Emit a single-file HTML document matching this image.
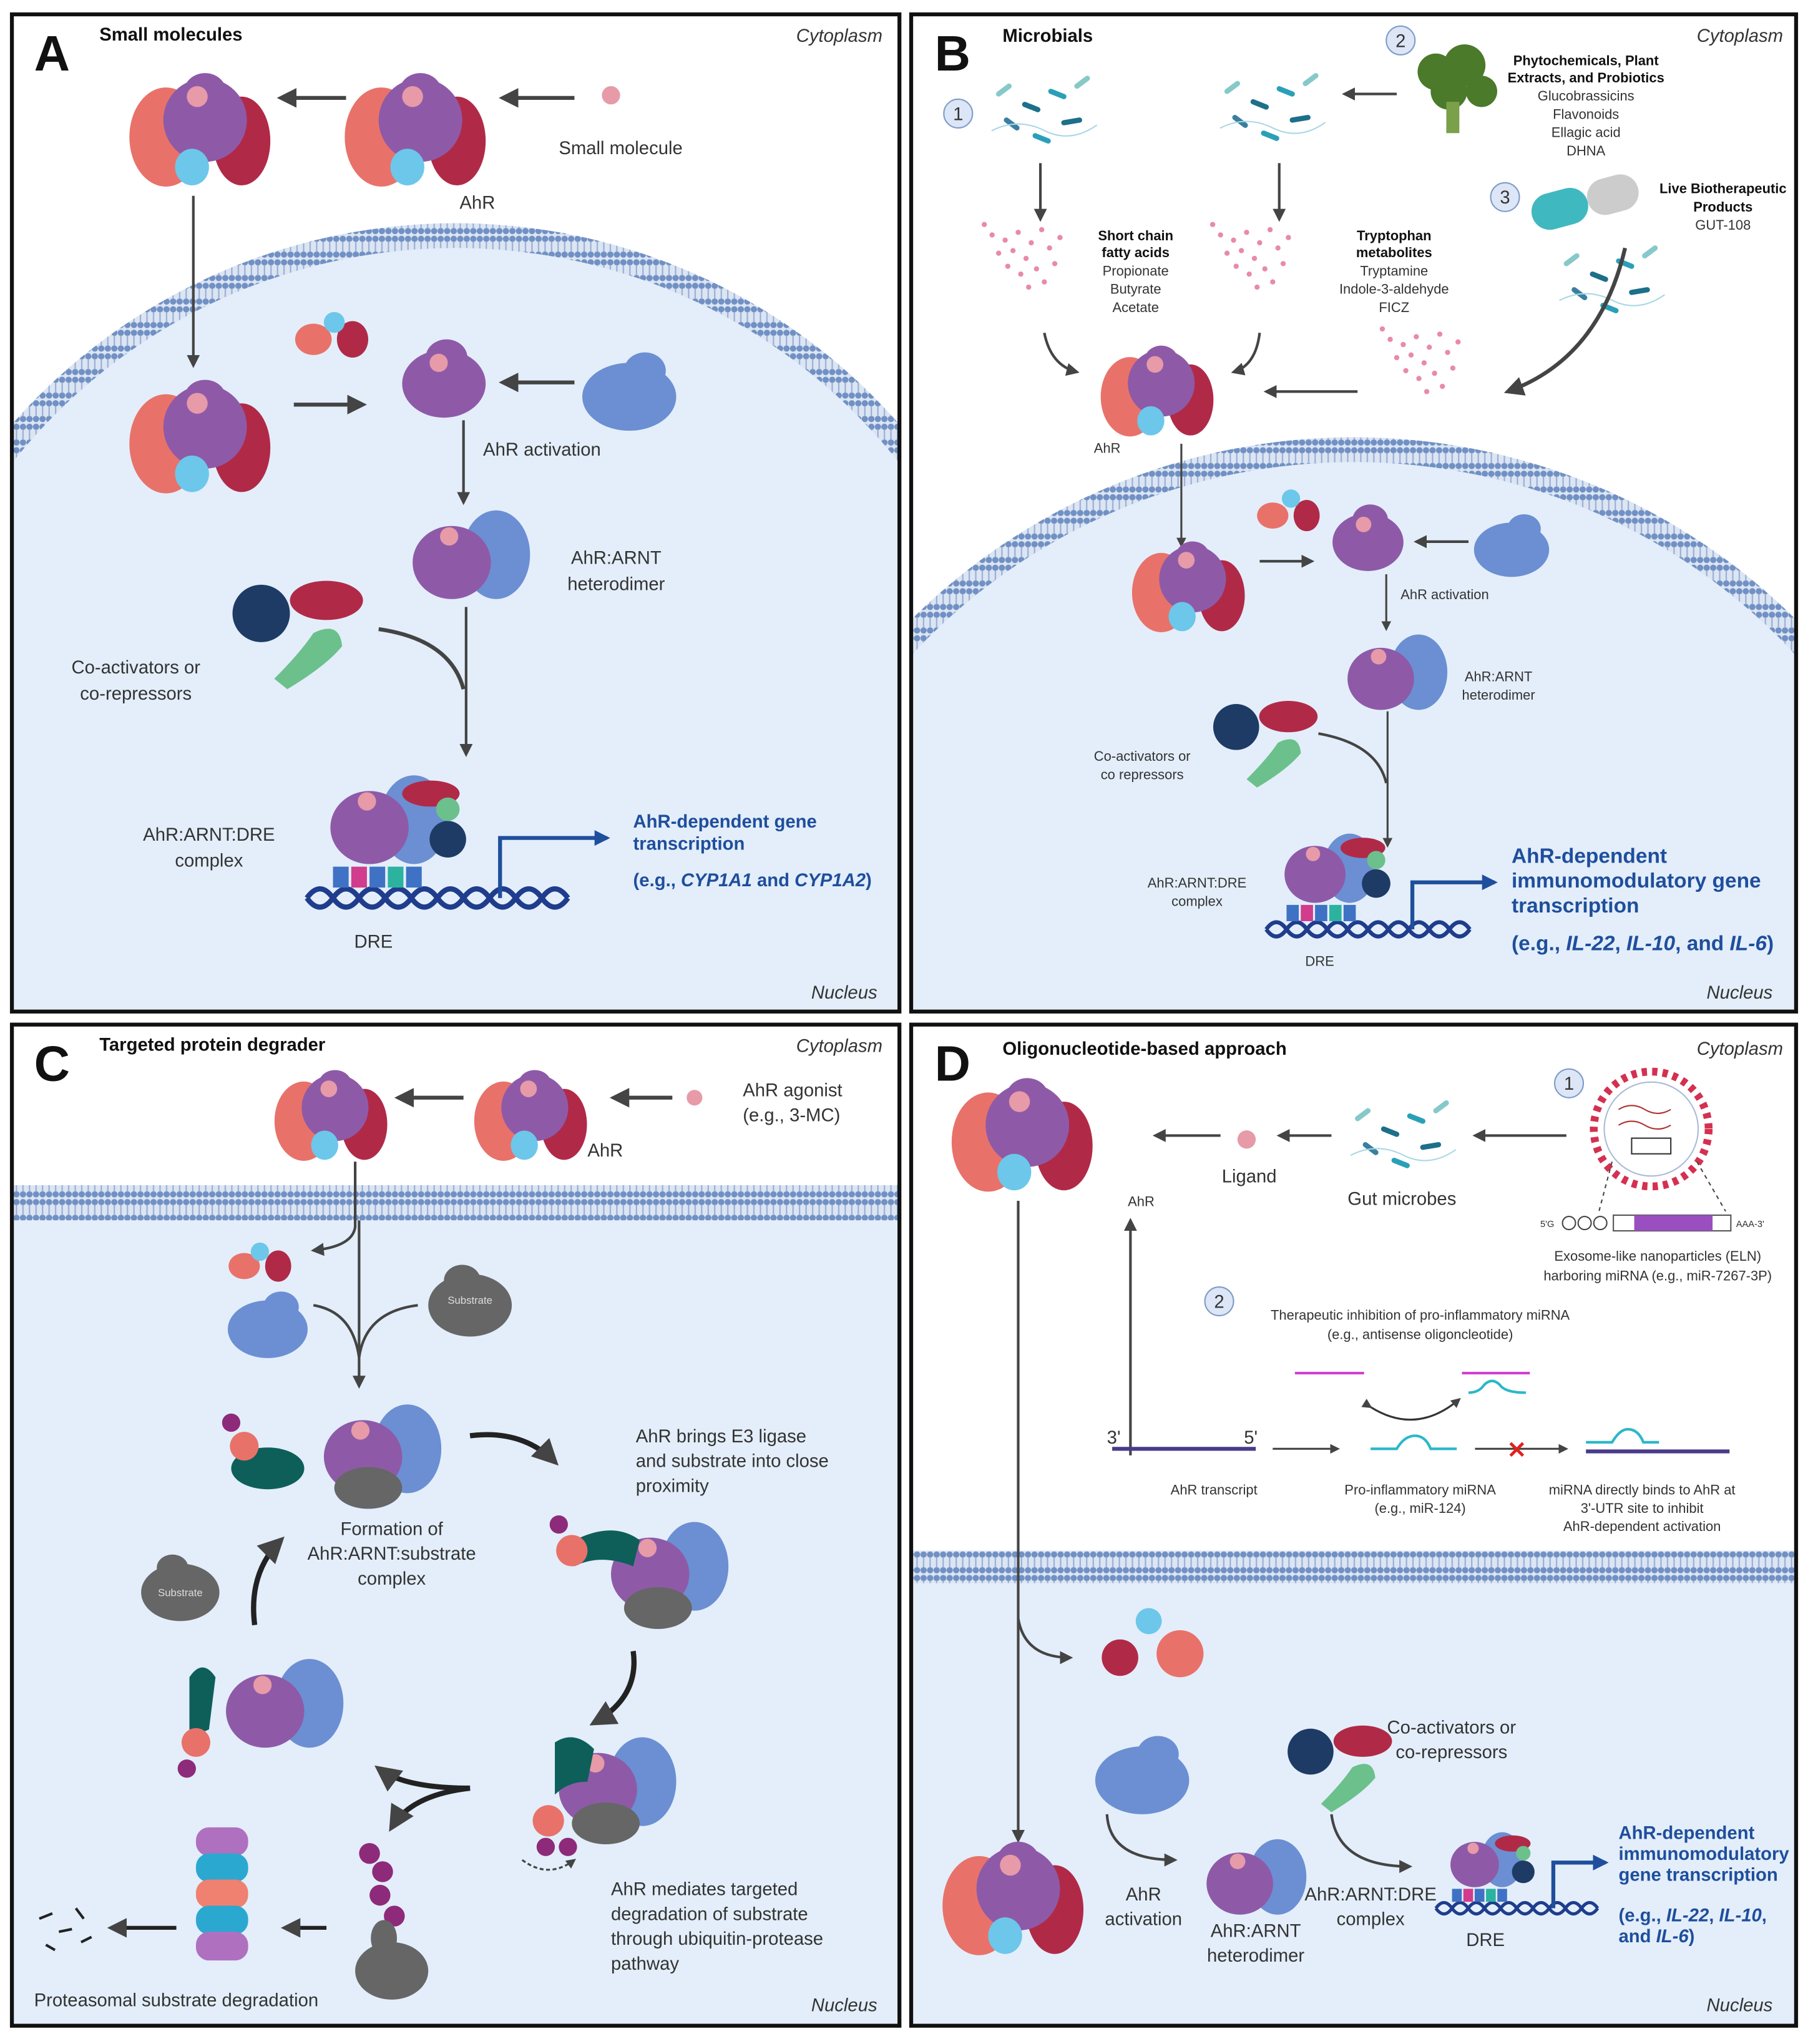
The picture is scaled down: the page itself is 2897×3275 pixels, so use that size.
<!DOCTYPE html>
<html><head><meta charset="utf-8"><style>
html,body{margin:0;padding:0;background:#fff}
svg{display:block}
text{font-family:"Liberation Sans",sans-serif;fill:#333}
.t{font-size:14px}.s{font-size:10.5px}.b{font-weight:bold;fill:#111}
.bl{fill:#1f4e9c;font-weight:bold}
.L{font-size:38px;font-weight:bold;fill:#111}
.i{font-style:italic}
</style></head><body>
<svg width="2897" height="3275" viewBox="0 0 1385 1566" xmlns="http://www.w3.org/2000/svg">
<defs>
<marker id="ah" viewBox="0 0 10 10" refX="8" refY="5" markerWidth="5" markerHeight="5" orient="auto"><path d="M0,0L10,5L0,10z" fill="#444"/></marker>
<marker id="ab" viewBox="0 0 10 10" refX="8" refY="5" markerWidth="4" markerHeight="4" orient="auto"><path d="M0,0L10,5L0,10z" fill="#1f4e9c"/></marker>
<pattern id="mem" width="5" height="18" patternUnits="userSpaceOnUse"><rect width="5" height="18" fill="#dbe5f3"/><circle cx="2.5" cy="3" r="2.4" fill="#7190c4"/><circle cx="2.5" cy="15" r="2.4" fill="#7190c4"/><line x1="2.5" y1="5" x2="2.5" y2="13" stroke="#97acd3" stroke-width="1"/></pattern>
<g id="cx">
<ellipse cx="-28" cy="5" rx="28" ry="38" fill="#e8726a"/>
<ellipse cx="30" cy="8" rx="22" ry="34" fill="#b02a48"/>
<ellipse cx="2" cy="-8" rx="32" ry="32" fill="#8e5aa8"/>
<ellipse cx="2" cy="-30" rx="16" ry="14" fill="#8e5aa8"/>
<circle cx="-4" cy="-26" r="8" fill="#e79aa8"/>
<ellipse cx="-8" cy="28" rx="13" ry="14" fill="#6cc7ea"/>
</g>
<g id="ahr"><ellipse cx="0" cy="4" rx="32" ry="26" fill="#8e5aa8"/><ellipse cx="2" cy="-16" rx="16" ry="14" fill="#8e5aa8"/><circle cx="-4" cy="-12" r="7" fill="#e79aa8"/></g>
<g id="arnt"><ellipse cx="0" cy="4" rx="36" ry="26" fill="#6b8fd2"/><ellipse cx="12" cy="-16" rx="16" ry="14" fill="#6b8fd2"/></g>
<g id="het"><ellipse cx="22" cy="0" rx="26" ry="34" fill="#6b8fd2"/><ellipse cx="-12" cy="6" rx="30" ry="28" fill="#8e5aa8"/><circle cx="-14" cy="-14" r="7" fill="#e79aa8"/></g>
<g id="cof"><circle cx="-20" cy="-10" r="22" fill="#1e3b66"/><ellipse cx="30" cy="-20" rx="28" ry="15" fill="#b02a48"/><path d="M-10,40 Q10,20 20,5 Q40,-5 42,15 Q30,30 0,48z" fill="#6cc08c"/></g>
<g id="dna" fill="none" stroke="#1f3d8c" stroke-width="4"><path d="M0,0 Q10,-14 20,0 T40,0 T60,0 T80,0 T100,0 T120,0 T140,0 T160,0 T180,0 T200,0"/><path d="M0,0 Q10,14 20,0 T40,0 T60,0 T80,0 T100,0 T120,0 T140,0 T160,0 T180,0 T200,0"/></g>
<g id="dre"><use href="#dna"/><rect x="20" y="-24" width="12" height="16" fill="#3f72c4"/><rect x="34" y="-24" width="12" height="16" fill="#d23c8c"/><rect x="48" y="-24" width="12" height="16" fill="#3f72c4"/><rect x="62" y="-24" width="12" height="16" fill="#2cb3a0"/><rect x="76" y="-24" width="12" height="16" fill="#3f72c4"/><use href="#het" x="60" y="-60"/><ellipse cx="95" cy="-80" rx="22" ry="10" fill="#b02a48"/><circle cx="108" cy="-45" r="14" fill="#1e3b66"/><circle cx="108" cy="-68" r="9" fill="#6cc08c"/></g>
<g id="bac" stroke-width="4" stroke-linecap="round"><line x1="0" y1="0" x2="10" y2="4" stroke="#1d6f8a"/><line x1="20" y1="-10" x2="30" y2="-6" stroke="#2aa0b8"/><line x1="-14" y1="12" x2="-6" y2="18" stroke="#3a7fa0"/><line x1="30" y1="14" x2="42" y2="12" stroke="#1d6f8a"/><line x1="-20" y1="-8" x2="-12" y2="-14" stroke="#86c9c8"/><line x1="8" y1="24" x2="18" y2="28" stroke="#2aa0b8"/><line x1="40" y1="-14" x2="48" y2="-20" stroke="#86c9c8"/><path d="M-25,20 q20,-10 40,0 t40,-4" stroke="#a8d8e4" stroke-width="1" fill="none"/></g>
<g id="dots" fill="#e88aa8"><circle cx="0" cy="0" r="2"/><circle cx="10" cy="4" r="2"/><circle cx="20" cy="-2" r="2"/><circle cx="30" cy="6" r="2"/><circle cx="5" cy="14" r="2"/><circle cx="16" cy="12" r="2"/><circle cx="26" cy="18" r="2"/><circle cx="38" cy="-4" r="2"/><circle cx="44" cy="10" r="2"/><circle cx="12" cy="24" r="2"/><circle cx="22" cy="30" r="2"/><circle cx="34" cy="26" r="2"/><circle cx="48" cy="22" r="2"/><circle cx="28" cy="40" r="2"/><circle cx="40" cy="36" r="2"/><circle cx="-6" cy="-8" r="2"/><circle cx="52" cy="2" r="2"/></g>
</defs>
<rect width="1385" height="1566" fill="#fff"/>

<!-- PANEL A -->
<clipPath id="cA"><rect x="9" y="11" width="680" height="764"/></clipPath>
<g clip-path="url(#cA)">
<circle cx="349" cy="623" r="452" fill="url(#mem)"/>
<circle cx="349" cy="623" r="433" fill="#e3eefa"/>
<rect x="0" y="700" width="700" height="80" fill="#e3eefa"/>
</g>
<rect x="9" y="11" width="680" height="764" fill="none" stroke="#111" stroke-width="3"/>
<text x="26" y="54" class="L">A</text>
<text x="76" y="31" class="t b">Small molecules</text>
<text x="676" y="32" class="t i" text-anchor="end">Cytoplasm</text>
<text x="672" y="765" class="t i" text-anchor="end">Nucleus</text>
<use href="#cx" x="155" y="100"/><use href="#cx" x="320" y="100"/>
<circle cx="468" cy="73" r="7" fill="#e79aa8"/>
<line x1="440" y1="75" x2="385" y2="75" stroke="#444" stroke-width="3" marker-end="url(#ah)"/>
<line x1="265" y1="75" x2="215" y2="75" stroke="#444" stroke-width="3" marker-end="url(#ah)"/>
<text x="428" y="118" class="t">Small molecule</text>
<text x="352" y="160" class="t">AhR</text>
<line x1="148" y1="150" x2="148" y2="280" stroke="#444" stroke-width="2" marker-end="url(#ah)"/>
<use href="#cx" x="155" y="335"/>
<g transform="translate(250,255)"><ellipse cx="-10" cy="5" rx="14" ry="12" fill="#e8726a"/><ellipse cx="20" cy="5" rx="12" ry="14" fill="#b02a48"/><circle cx="6" cy="-8" r="8" fill="#6cc7ea"/></g>
<line x1="225" y1="310" x2="278" y2="310" stroke="#444" stroke-width="3" marker-end="url(#ah)"/>
<use href="#ahr" x="340" y="290"/>
<line x1="440" y1="293" x2="385" y2="293" stroke="#444" stroke-width="3" marker-end="url(#ah)"/>
<use href="#arnt" x="482" y="300"/>
<line x1="355" y1="322" x2="355" y2="385" stroke="#444" stroke-width="2" marker-end="url(#ah)"/>
<text x="370" y="349" class="t">AhR activation</text>
<use href="#het" x="358" y="425"/>
<text x="472" y="432" class="t" text-anchor="middle">AhR:ARNT</text>
<text x="472" y="452" class="t" text-anchor="middle">heterodimer</text>
<use href="#cof" x="220" y="480"/>
<text x="104" y="516" class="t" text-anchor="middle">Co-activators or</text>
<text x="104" y="536" class="t" text-anchor="middle">co-repressors</text>
<path d="M290,482 Q345,490 355,528" fill="none" stroke="#444" stroke-width="3"/>
<line x1="357" y1="465" x2="357" y2="578" stroke="#444" stroke-width="2" marker-end="url(#ah)"/>
<use href="#dre" x="235" y="688"/>
<path d="M383,688 V642 H465" fill="none" stroke="#1f4e9c" stroke-width="3" marker-end="url(#ab)"/>
<text x="160" y="644" class="t" text-anchor="middle">AhR:ARNT:DRE</text>
<text x="160" y="664" class="t" text-anchor="middle">complex</text>
<text x="286" y="726" class="t" text-anchor="middle">DRE</text>
<text x="485" y="634" class="t bl">AhR-dependent gene</text>
<text x="485" y="651" class="t bl">transcription</text>
<text x="485" y="679" class="t bl">(e.g., <tspan class="i">CYP1A1</tspan> and <tspan class="i">CYP1A2</tspan>)</text>

<!-- PANEL B -->
<clipPath id="cB"><rect x="698" y="11" width="678" height="764"/></clipPath>
<g clip-path="url(#cB)">
<circle cx="1037" cy="816" r="481" fill="url(#mem)"/>
<circle cx="1037" cy="816" r="462" fill="#e3eefa"/>
<rect x="690" y="900" width="700" height="80" fill="#e3eefa"/>
</g>
<rect x="698" y="11" width="678" height="764" fill="none" stroke="#111" stroke-width="3"/>
<text x="716" y="54" class="L">B</text>
<text x="768" y="32" class="t b">Microbials</text>
<text x="1366" y="32" class="t i" text-anchor="end">Cytoplasm</text>
<text x="1358" y="765" class="t i" text-anchor="end">Nucleus</text>
<circle cx="734" cy="87" r="11" fill="#dce6f6" stroke="#7f9cc9"/><text x="734" y="92" class="t" text-anchor="middle">1</text>
<circle cx="1073" cy="31" r="11" fill="#dce6f6" stroke="#7f9cc9"/><text x="1073" y="36" class="t" text-anchor="middle">2</text>
<circle cx="1153" cy="151" r="11" fill="#dce6f6" stroke="#7f9cc9"/><text x="1153" y="156" class="t" text-anchor="middle">3</text>
<use href="#bac" x="785" y="80"/><use href="#bac" x="960" y="78"/><use href="#bac" x="1220" y="210"/>
<g fill="#4a7a2a"><circle cx="1100" cy="55" r="14"/><circle cx="1122" cy="50" r="16"/><circle cx="1110" cy="70" r="14"/><circle cx="1135" cy="70" r="12"/></g><rect x="1108" y="78" width="10" height="24" fill="#7aa04a"/>
<g transform="translate(1195,160) rotate(-15)"><rect x="-22" y="-14" width="44" height="28" rx="14" fill="#40b8c0"/><rect x="22" y="-14" width="40" height="28" rx="14" fill="#ccc"/></g>
<text x="1215" y="50" class="s b" text-anchor="middle">Phytochemicals, Plant</text>
<text x="1215" y="63" class="s b" text-anchor="middle">Extracts, and Probiotics</text>
<text x="1215" y="77" class="s" text-anchor="middle">Glucobrassicins</text>
<text x="1215" y="91" class="s" text-anchor="middle">Flavonoids</text>
<text x="1215" y="105" class="s" text-anchor="middle">Ellagic acid</text>
<text x="1215" y="119" class="s" text-anchor="middle">DHNA</text>
<text x="1320" y="148" class="s b" text-anchor="middle">Live Biotherapeutic</text>
<text x="1320" y="162" class="s b" text-anchor="middle">Products</text>
<text x="1320" y="176" class="s" text-anchor="middle">GUT-108</text>
<line x1="1070" y1="72" x2="1030" y2="72" stroke="#444" stroke-width="2" marker-end="url(#ah)"/>
<line x1="797" y1="125" x2="797" y2="168" stroke="#444" stroke-width="2" marker-end="url(#ah)"/>
<line x1="980" y1="125" x2="980" y2="168" stroke="#444" stroke-width="2" marker-end="url(#ah)"/>
<use href="#dots" x="760" y="180"/><use href="#dots" x="935" y="180"/><use href="#dots" x="1065" y="260"/>
<text x="870" y="184" class="s b" text-anchor="middle">Short chain</text>
<text x="870" y="197" class="s b" text-anchor="middle">fatty acids</text>
<text x="870" y="211" class="s" text-anchor="middle">Propionate</text>
<text x="870" y="225" class="s" text-anchor="middle">Butyrate</text>
<text x="870" y="239" class="s" text-anchor="middle">Acetate</text>
<text x="1068" y="184" class="s b" text-anchor="middle">Tryptophan</text>
<text x="1068" y="197" class="s b" text-anchor="middle">metabolites</text>
<text x="1068" y="211" class="s" text-anchor="middle">Tryptamine</text>
<text x="1068" y="225" class="s" text-anchor="middle">Indole-3-aldehyde</text>
<text x="1068" y="239" class="s" text-anchor="middle">FICZ</text>
<path d="M800,255 Q805,280 825,285" fill="none" stroke="#444" stroke-width="2" marker-end="url(#ah)"/>
<path d="M965,255 Q962,280 945,285" fill="none" stroke="#444" stroke-width="2" marker-end="url(#ah)"/>
<path d="M1245,190 Q1225,275 1155,300" fill="none" stroke="#444" stroke-width="3" marker-end="url(#ah)"/>
<line x1="1040" y1="300" x2="970" y2="300" stroke="#444" stroke-width="2" marker-end="url(#ah)"/>
<use href="#cx" transform="translate(888,300) scale(0.8)"/>
<text x="838" y="347" class="s">AhR</text>
<line x1="905" y1="340" x2="905" y2="418" stroke="#444" stroke-width="1.5" marker-end="url(#ah)"/>
<use href="#cx" transform="translate(912,450) scale(0.8)"/>
<g transform="translate(985,390)"><ellipse cx="-10" cy="5" rx="12" ry="10" fill="#e8726a"/><ellipse cx="16" cy="5" rx="10" ry="12" fill="#b02a48"/><circle cx="4" cy="-8" r="7" fill="#6cc7ea"/></g>
<line x1="965" y1="430" x2="1005" y2="430" stroke="#444" stroke-width="2" marker-end="url(#ah)"/>
<use href="#ahr" transform="translate(1048,412) scale(0.85)"/>
<line x1="1125" y1="415" x2="1085" y2="415" stroke="#444" stroke-width="2" marker-end="url(#ah)"/>
<use href="#arnt" transform="translate(1158,418) scale(0.8)"/>
<line x1="1062" y1="440" x2="1062" y2="482" stroke="#444" stroke-width="1.5" marker-end="url(#ah)"/>
<text x="1073" y="459" class="s">AhR activation</text>
<use href="#het" transform="translate(1068,515) scale(0.85)"/>
<text x="1148" y="522" class="s" text-anchor="middle">AhR:ARNT</text>
<text x="1148" y="536" class="s" text-anchor="middle">heterodimer</text>
<use href="#cof" transform="translate(963,565) scale(0.8)"/>
<text x="875" y="583" class="s" text-anchor="middle">Co-activators or</text>
<text x="875" y="597" class="s" text-anchor="middle">co repressors</text>
<path d="M1010,562 Q1055,570 1062,600" fill="none" stroke="#444" stroke-width="2"/>
<line x1="1063" y1="545" x2="1063" y2="648" stroke="#444" stroke-width="1.5" marker-end="url(#ah)"/>
<use href="#dre" transform="translate(970,712) scale(0.78)"/>
<path d="M1082,712 V676 H1145" fill="none" stroke="#1f4e9c" stroke-width="3" marker-end="url(#ab)"/>
<text x="917" y="680" class="s" text-anchor="middle">AhR:ARNT:DRE</text>
<text x="917" y="694" class="s" text-anchor="middle">complex</text>
<text x="1011" y="740" class="s" text-anchor="middle">DRE</text>
<text x="1158" y="661" class="bl" font-size="16">AhR-dependent</text>
<text x="1158" y="680" class="bl" font-size="16">immunomodulatory gene</text>
<text x="1158" y="699" class="bl" font-size="16">transcription</text>
<text x="1158" y="728" class="bl" font-size="16">(e.g., <tspan class="i">IL-22</tspan>, <tspan class="i">IL-10</tspan>, and <tspan class="i">IL-6</tspan>)</text>

<!-- PANEL C -->
<rect x="9" y="785" width="680" height="767" fill="#fff"/>
<rect x="9" y="908" width="680" height="27" fill="url(#mem)"/>
<rect x="9" y="935" width="680" height="617" fill="#e3eefa"/>
<rect x="9" y="785" width="680" height="767" fill="none" stroke="#111" stroke-width="3"/>
<text x="26" y="828" class="L">C</text>
<text x="76" y="805" class="t b">Targeted protein degrader</text>
<text x="676" y="806" class="t i" text-anchor="end">Cytoplasm</text>
<text x="672" y="1541" class="t i" text-anchor="end">Nucleus</text>
<use href="#cx" transform="translate(255,855) scale(0.8)"/><use href="#cx" transform="translate(408,855) scale(0.8)"/>
<circle cx="532" cy="841" r="6" fill="#e79aa8"/>
<line x1="515" y1="841" x2="470" y2="841" stroke="#444" stroke-width="3" marker-end="url(#ah)"/>
<line x1="355" y1="841" x2="305" y2="841" stroke="#444" stroke-width="3" marker-end="url(#ah)"/>
<text x="569" y="840" class="t">AhR agonist</text>
<text x="569" y="859" class="t">(e.g., 3-MC)</text>
<text x="450" y="886" class="t">AhR</text>
<path d="M272,890 V940 Q270,955 240,958" fill="none" stroke="#444" stroke-width="2" marker-end="url(#ah)"/>
<g transform="translate(195,965)"><ellipse cx="-8" cy="5" rx="12" ry="10" fill="#e8726a"/><ellipse cx="18" cy="5" rx="10" ry="12" fill="#b02a48"/><circle cx="4" cy="-6" r="7" fill="#6cc7ea"/></g>
<use href="#arnt" transform="translate(205,1015) scale(0.85)"/>
<g transform="translate(360,995)"><ellipse cx="0" cy="5" rx="32" ry="24" fill="#666"/><ellipse cx="-6" cy="-14" rx="14" ry="12" fill="#666"/><text x="0" y="4" font-size="8" text-anchor="middle" style="fill:#ddd">Substrate</text></g>
<path d="M240,1000 Q270,1005 275,1040 Q280,1005 320,1000" fill="none" stroke="#444" stroke-width="2"/>
<line x1="275" y1="935" x2="275" y2="1062" stroke="#444" stroke-width="2" marker-end="url(#ah)"/>
<g transform="translate(290,1110)"><use href="#het"/><ellipse cx="-8" cy="30" rx="26" ry="16" fill="#666"/></g>
<g transform="translate(205,1120)"><ellipse cx="0" cy="5" rx="28" ry="16" fill="#0e5f5a"/><circle cx="-18" cy="-12" r="11" fill="#e8726a"/><circle cx="-28" cy="-30" r="7" fill="#8e2a7a"/></g>
<text x="300" y="1176" class="t" text-anchor="middle">Formation of</text>
<text x="300" y="1195" class="t" text-anchor="middle">AhR:ARNT:substrate</text>
<text x="300" y="1214" class="t" text-anchor="middle">complex</text>
<path d="M360,1100 Q400,1095 425,1120" fill="none" stroke="#222" stroke-width="4" marker-end="url(#ah)"/>
<text x="487" y="1105" class="t">AhR brings E3 ligase</text>
<text x="487" y="1124" class="t">and substrate into close</text>
<text x="487" y="1143" class="t">proximity</text>
<g transform="translate(510,1200)"><use href="#het"/><ellipse cx="-6" cy="32" rx="26" ry="16" fill="#666"/><path d="M-70,-20 Q-40,-35 -20,-20 L-25,0 Q-50,-10 -70,0z" fill="#0e5f5a"/><circle cx="-72" cy="-12" r="12" fill="#e8726a"/><circle cx="-82" cy="-32" r="7" fill="#8e2a7a"/></g>
<path d="M485,1265 Q490,1300 455,1320" fill="none" stroke="#222" stroke-width="4" marker-end="url(#ah)"/>
<g transform="translate(470,1365)"><use href="#het"/><ellipse cx="-6" cy="32" rx="26" ry="16" fill="#666"/><path d="M-45,-30 Q-30,-40 -15,-25 L-20,0 Q-35,0 -45,10z" fill="#0e5f5a"/><circle cx="-50" cy="30" r="12" fill="#e8726a"/><circle cx="-52" cy="50" r="7" fill="#8e2a7a"/><circle cx="-35" cy="50" r="7" fill="#8e2a7a"/></g>
<path d="M400,1425 Q420,1440 440,1425" fill="none" stroke="#444" stroke-width="1.5" stroke-dasharray="3,2" marker-end="url(#ah)"/>
<text x="468" y="1452" class="t">AhR mediates targeted</text>
<text x="468" y="1471" class="t">degradation of substrate</text>
<text x="468" y="1490" class="t">through ubiquitin-protease</text>
<text x="468" y="1509" class="t">pathway</text>
<path d="M360,1370 Q310,1370 290,1355" fill="none" stroke="#222" stroke-width="4" marker-end="url(#ah)"/>
<path d="M360,1370 Q315,1375 300,1400" fill="none" stroke="#222" stroke-width="4" marker-end="url(#ah)"/>
<g transform="translate(215,1305)"><use href="#het"/><path d="M-70,-20 Q-60,-35 -50,-20 L-55,20 Q-65,25 -70,20z" fill="#0e5f5a"/><circle cx="-65" cy="30" r="11" fill="#e8726a"/><circle cx="-72" cy="50" r="7" fill="#8e2a7a"/></g>
<path d="M195,1245 Q190,1205 215,1180" fill="none" stroke="#222" stroke-width="4" marker-end="url(#ah)"/>
<g transform="translate(138,1215)"><ellipse cx="0" cy="5" rx="30" ry="22" fill="#666"/><ellipse cx="-6" cy="-14" rx="12" ry="10" fill="#666"/><text x="0" y="8" font-size="8" text-anchor="middle" style="fill:#ddd">Substrate</text></g>
<g fill="#8e2a7a"><circle cx="283" cy="1420" r="8"/><circle cx="293" cy="1434" r="8"/><circle cx="291" cy="1452" r="8"/><circle cx="302" cy="1468" r="8"/></g>
<g transform="translate(300,1505)"><ellipse cx="0" cy="5" rx="28" ry="22" fill="#666"/><ellipse cx="-6" cy="-20" rx="10" ry="14" fill="#666"/></g>
<g transform="translate(170,1460)"><rect x="-20" y="-60" width="40" height="22" rx="10" fill="#b070c0"/><rect x="-20" y="-40" width="40" height="22" rx="10" fill="#2aa8d0"/><rect x="-20" y="-20" width="40" height="22" rx="10" fill="#f08070"/><rect x="-20" y="0" width="40" height="22" rx="10" fill="#2aa8d0"/><rect x="-20" y="20" width="40" height="22" rx="10" fill="#b070c0"/></g>
<line x1="250" y1="1477" x2="218" y2="1477" stroke="#222" stroke-width="3" marker-end="url(#ah)"/>
<line x1="135" y1="1477" x2="85" y2="1477" stroke="#222" stroke-width="3" marker-end="url(#ah)"/>
<g stroke="#222" stroke-width="2"><line x1="30" y1="1470" x2="40" y2="1466"/><line x1="45" y1="1480" x2="55" y2="1478"/><line x1="35" y1="1490" x2="42" y2="1494"/><line x1="58" y1="1462" x2="64" y2="1470"/><line x1="62" y1="1488" x2="70" y2="1484"/></g>
<text x="26" y="1537" class="t">Proteasomal substrate degradation</text>

<!-- PANEL D -->
<rect x="698" y="785" width="678" height="767" fill="#fff"/>
<rect x="698" y="1188" width="678" height="25" fill="url(#mem)"/>
<rect x="698" y="1213" width="678" height="339" fill="#e3eefa"/>
<rect x="698" y="785" width="678" height="767" fill="none" stroke="#111" stroke-width="3"/>
<text x="716" y="828" class="L">D</text>
<text x="768" y="808" class="t b">Oligonucleotide-based approach</text>
<text x="1366" y="808" class="t i" text-anchor="end">Cytoplasm</text>
<text x="1358" y="1541" class="t i" text-anchor="end">Nucleus</text>
<use href="#cx" x="785" y="870"/>
<text x="864" y="924" class="s">AhR</text>
<line x1="866" y1="1115" x2="866" y2="935" stroke="#444" stroke-width="2" marker-end="url(#ah)"/>
<line x1="935" y1="870" x2="885" y2="870" stroke="#444" stroke-width="2" marker-end="url(#ah)"/>
<circle cx="955" cy="873" r="7" fill="#e79aa8"/>
<text x="957" y="906" class="t" text-anchor="middle">Ligand</text>
<line x1="1020" y1="870" x2="980" y2="870" stroke="#444" stroke-width="2" marker-end="url(#ah)"/>
<use href="#bac" x="1060" y="865"/>
<text x="1074" y="923" class="t" text-anchor="middle">Gut microbes</text>
<line x1="1200" y1="870" x2="1130" y2="870" stroke="#444" stroke-width="2" marker-end="url(#ah)"/>
<circle cx="1202" cy="830" r="11" fill="#dce6f6" stroke="#7f9cc9"/><text x="1202" y="835" class="t" text-anchor="middle">1</text>
<circle cx="1265" cy="865" r="44" fill="none" stroke="#d43050" stroke-width="6" stroke-dasharray="4,4"/>
<circle cx="1265" cy="865" r="36" fill="#fff" stroke="#aabbd8"/>
<path d="M1240,850 q10,-6 20,0 t20,0 M1240,862 q10,-6 20,0 t20,0" stroke="#b03030" fill="none"/>
<rect x="1250" y="872" width="30" height="12" fill="none" stroke="#333"/>
<line x1="1235" y1="890" x2="1225" y2="928" stroke="#444" stroke-dasharray="3,3"/>
<line x1="1300" y1="890" x2="1322" y2="928" stroke="#444" stroke-dasharray="3,3"/>
<text x="1180" y="940" font-size="7">5'G</text>
<g fill="#fff" stroke="#444"><circle cx="1202" cy="937" r="5"/><circle cx="1214" cy="937" r="5"/><circle cx="1226" cy="937" r="5"/></g>
<rect x="1236" y="931" width="90" height="12" fill="#fff" stroke="#555"/><rect x="1252" y="931" width="60" height="12" fill="#9a4fc0"/>
<text x="1330" y="940" font-size="7">AAA-3'</text>
<text x="1270" y="966" class="s" text-anchor="middle">Exosome-like nanoparticles (ELN)</text>
<text x="1270" y="981" class="s" text-anchor="middle">harboring miRNA (e.g., miR-7267-3P)</text>
<circle cx="934" cy="997" r="11" fill="#dce6f6" stroke="#7f9cc9"/><text x="934" y="1002" class="t" text-anchor="middle">2</text>
<text x="1088" y="1011" class="s" text-anchor="middle">Therapeutic inhibition of pro-inflammatory miRNA</text>
<text x="1088" y="1026" class="s" text-anchor="middle">(e.g., antisense oligoncleotide)</text>
<g stroke="#d040d0" stroke-width="2"><line x1="992" y1="1052" x2="1045" y2="1052"/><line x1="1120" y1="1052" x2="1172" y2="1052"/></g>
<path d="M1125,1067 q8,0 12,-6 q6,-6 12,0 q4,6 20,6" stroke="#2ab8c8" stroke-width="2" fill="none"/>
<path d="M1050,1078 Q1085,1100 1118,1072" fill="none" stroke="#333" stroke-width="1.5" marker-end="url(#ah)" marker-start="url(#ah)"/>
<text x="848" y="1106" class="t">3'</text><text x="953" y="1106" class="t">5'</text>
<line x1="852" y1="1110" x2="962" y2="1110" stroke="#4a3a8a" stroke-width="3"/>
<text x="930" y="1145" class="s" text-anchor="middle">AhR transcript</text>
<line x1="975" y1="1110" x2="1025" y2="1110" stroke="#444" stroke-width="1.5" marker-end="url(#ah)"/>
<path d="M1050,1110 h20 q6,-10 14,-10 q8,0 12,10 h20" stroke="#2ab8c8" stroke-width="2" fill="none"/>
<text x="1088" y="1145" class="s" text-anchor="middle">Pro-inflammatory miRNA</text>
<text x="1088" y="1159" class="s" text-anchor="middle">(e.g., miR-124)</text>
<line x1="1130" y1="1110" x2="1200" y2="1110" stroke="#444" stroke-width="1.5" marker-end="url(#ah)"/>
<text x="1162" y="1117" font-size="18" font-weight="bold" text-anchor="middle" style="fill:#e02020">✕</text>
<path d="M1215,1105 h20 q6,-10 12,-10 q8,0 12,10 h12" stroke="#2ab8c8" stroke-width="2" fill="none"/>
<line x1="1215" y1="1112" x2="1325" y2="1112" stroke="#4a3a8a" stroke-width="3"/>
<text x="1258" y="1145" class="s" text-anchor="middle">miRNA directly binds to AhR at</text>
<text x="1258" y="1159" class="s" text-anchor="middle">3'-UTR site to inhibit</text>
<text x="1258" y="1173" class="s" text-anchor="middle">AhR-dependent activation</text>
<path d="M780,920 V1410" fill="none" stroke="#444" stroke-width="2" marker-end="url(#ah)"/>
<path d="M780,1240 Q785,1270 820,1270" fill="none" stroke="#444" stroke-width="2" marker-end="url(#ah)"/>
<g transform="translate(880,1262)"><ellipse cx="-22" cy="8" rx="14" ry="14" fill="#b02a48"/><ellipse cx="24" cy="5" rx="18" ry="18" fill="#e8726a"/><circle cx="0" cy="-20" r="10" fill="#6cc7ea"/></g>
<use href="#arnt" x="875" y="1360"/>
<path d="M848,1390 Q850,1425 900,1425" fill="none" stroke="#444" stroke-width="2" marker-end="url(#ah)"/>
<text x="876" y="1456" class="t" text-anchor="middle">AhR</text>
<text x="876" y="1475" class="t" text-anchor="middle">activation</text>
<use href="#cx" x="778" y="1455"/>
<use href="#het" transform="translate(960,1438) scale(0.85)"/>
<text x="962" y="1484" class="t" text-anchor="middle">AhR:ARNT</text>
<text x="962" y="1503" class="t" text-anchor="middle">heterodimer</text>
<use href="#cof" transform="translate(1020,1350) scale(0.8)"/>
<text x="1112" y="1328" class="t" text-anchor="middle">Co-activators or</text>
<text x="1112" y="1347" class="t" text-anchor="middle">co-repressors</text>
<path d="M1020,1390 Q1025,1430 1080,1430" fill="none" stroke="#444" stroke-width="2" marker-end="url(#ah)"/>
<text x="1050" y="1456" class="t" text-anchor="middle">AhR:ARNT:DRE</text>
<text x="1050" y="1475" class="t" text-anchor="middle">complex</text>
<use href="#dre" transform="translate(1100,1462) scale(0.62)"/>
<path d="M1190,1462 V1427 H1230" fill="none" stroke="#1f4e9c" stroke-width="3" marker-end="url(#ab)"/>
<text x="1138" y="1491" class="t" text-anchor="middle">DRE</text>
<text x="1240" y="1409" class="t bl">AhR-dependent</text>
<text x="1240" y="1425" class="t bl">immunomodulatory</text>
<text x="1240" y="1441" class="t bl">gene transcription</text>
<text x="1240" y="1472" class="t bl">(e.g., <tspan class="i">IL-22</tspan>, <tspan class="i">IL-10</tspan>,</text>
<text x="1240" y="1488" class="t bl">and <tspan class="i">IL-6</tspan>)</text>
</svg>
</body></html>
